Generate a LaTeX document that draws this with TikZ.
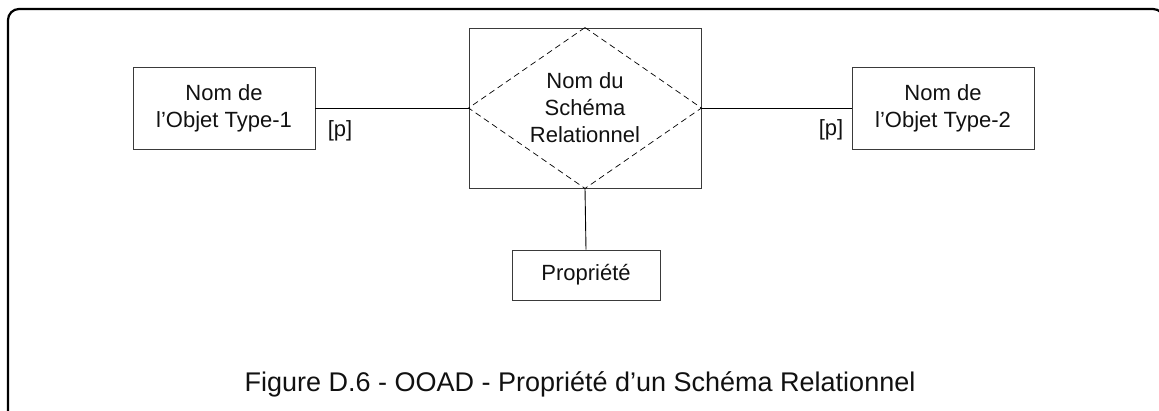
\documentclass[tikz,border=0pt]{standalone}
\usepackage{fontspec}
\setmainfont{Liberation Sans}
\usepackage{tikz}
\usetikzlibrary{positioning,calc}
\definecolor{cFrame}{HTML}{000000}
\definecolor{cBoxD}{HTML}{3A3A3A}
\definecolor{cText}{HTML}{111111}
\tikzset{
  blk/.style     = {draw=cBoxD, line width=0.9pt, inner sep=0pt, align=center,
                    text=cText, font=\fontsize{22}{27}\selectfont},
  objbox/.style  = {blk, minimum width=182pt, minimum height=82pt},
  relbox/.style  = {blk, minimum width=232pt, minimum height=160pt},
  propbox/.style = {blk, minimum width=148pt, minimum height=50pt},
  card/.style    = {text=cText, inner sep=0pt, font=\fontsize{22}{27}\selectfont},
  link/.style    = {black, line width=0.9pt},
  rhombe/.style  = {black, line width=0.7pt, dash pattern=on 6pt off 4pt},
  frame/.style   = {cFrame, line width=2.2pt, rounded corners=11pt},
}

\begin{document}
\begin{tikzpicture}[x=1pt, y=-1pt]
  \useasboundingbox (0,0) rectangle (1159,411);
  % cadre (open at right and bottom)
  \draw[frame] (8,430) -- (8,9) -- (1164,9) -- (1164,40);
  % objets
  \node[objbox] (obj1) at (224,108) {Nom de\\l'Objet Type-1};
  \node[objbox] (obj2) at (943,108) {Nom de\\l'Objet Type-2};
  % schema relationnel
  \node[relbox] (rel) at (585,108) {Nom du\\Schéma\\Relationnel};
  \draw[rhombe] (rel.north) -- (rel.east) -- (rel.south) -- (rel.west) -- cycle;
  % propriete
  \node[propbox] (prop) at (586,275) {Propriété};
  % liens
  \draw[link] (obj1.east) -- (rel.west);
  \draw[link] (rel.east) -- (obj2.west);
  \draw[link] (rel.south) -- (prop.north);
  \node[card] (p1) at (340,131) {[p]};
  \node[card] (p2) at (831,130) {[p]};
  % legende
  \node[text=cText, font=\fontsize{27}{31}\selectfont] (cap) at (580,384)
    {Figure D.6 - OOAD - Propriété d'un Schéma Relationnel};
\end{tikzpicture}
\end{document}
